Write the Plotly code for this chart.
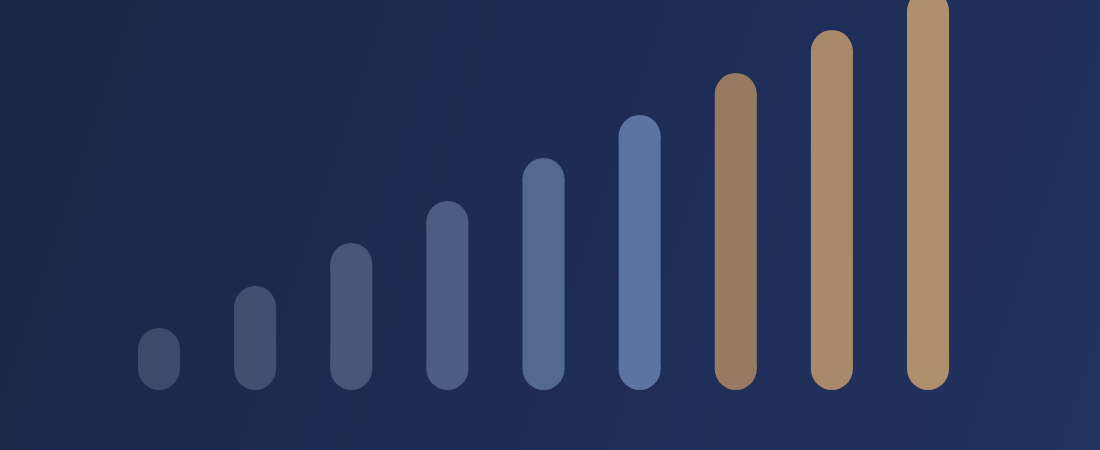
import numpy as np
import plotly.graph_objects as go

# bar heights, measured from a common baseline
steps = [1, 2, 3, 4, 5, 6, 7, 8, 9]
heights = [62, 104, 147, 189, 232, 275, 317, 360, 400]
colors = ['#3d4a6c', '#424f73', '#47567b', '#4c5d84', '#54698f', '#5e74a0',
          '#987961', '#a98969', '#b08f6c']

x_range = [-0.654, 10.789]
y_range = [-60, 390]
bar_w = 0.437   # in x units (~42px)
cap = 21        # cap radius in y units (1 unit = 1px here)

fig = go.Figure()

# background gradient (dark left, bluer right)
gx = np.linspace(x_range[0], x_range[1], 2)
gy = np.linspace(y_range[0], y_range[1], 2)
gz = [[0.12, 1.0], [0.0, 0.88]]
fig.add_trace(go.Heatmap(x=gx, y=gy, z=gz, zsmooth='best', showscale=False,
                         colorscale=[[0, '#1a2548'], [1, '#223360']],
                         hoverinfo='skip'))

# pill body
fig.add_trace(go.Bar(x=steps, y=[h - 2 * cap for h in heights], base=cap, width=bar_w,
                     marker=dict(color=colors, line_width=0), hoverinfo='skip'))
# round caps top and bottom
fig.add_trace(go.Scatter(x=steps + steps, y=[cap] * len(steps) + [h - cap for h in heights],
                         mode='markers', cliponaxis=True,
                         marker=dict(size=2 * cap, color=colors + colors, line_width=0),
                         hoverinfo='skip'))

fig.update_layout(width=1100, height=450, margin=dict(l=0, r=0, t=0, b=0),
                  showlegend=False,
                  paper_bgcolor='#1c294f', plot_bgcolor='#1c294f')
fig.update_xaxes(range=x_range, visible=False, fixedrange=True)
fig.update_yaxes(range=y_range, visible=False, fixedrange=True)

fig.write_html("out.html", config={'displayModeBar': False},
               post_script="document.body.style.margin='0';document.body.style.overflow='hidden';")
